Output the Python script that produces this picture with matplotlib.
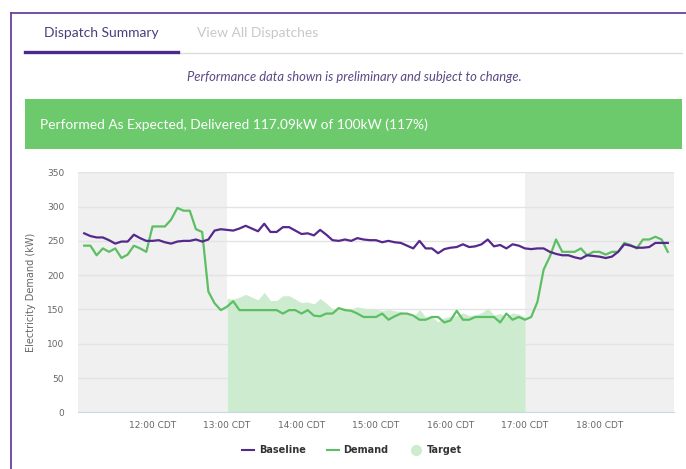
import matplotlib.pyplot as plt
from matplotlib.lines import Line2D
from matplotlib.patches import Rectangle
import numpy as np

W, H = 686, 469

# 5-minute readings from 11:05 to 18:55 (kW)
baseline = [261, 257, 255, 255, 251, 246, 249, 249, 259, 254,
            250, 250, 251, 248, 246, 249, 250, 250, 252, 249,
            252, 265, 267, 266, 265, 268, 272, 268, 264, 275,
            263, 263, 270, 270, 265, 260, 261, 258, 266, 259,
            251, 250, 252, 250, 254, 252, 251, 251, 248, 250,
            248, 247, 243, 239, 250, 239, 239, 232, 238, 240,
            241, 245, 241, 242, 245, 252, 242, 244, 239, 245,
            243, 239, 238, 239, 239, 234, 231, 229, 229, 226,
            224, 229, 228, 227, 225, 227, 234, 245, 243, 240,
            240, 241, 247, 247, 247]
demand = [243, 243, 229, 239, 234, 239, 225, 230, 243, 239,
          234, 271, 271, 271, 281, 298, 294, 294, 267, 263,
          176, 159, 149, 154, 162, 149, 149, 149, 149, 149,
          149, 149, 144, 149, 149, 144, 149, 141, 140, 144,
          144, 152, 149, 148, 144, 139, 139, 139, 144, 135,
          140, 144, 144, 141, 135, 135, 139, 139, 131, 134,
          148, 135, 135, 139, 139, 139, 139, 131, 144, 135,
          139, 135, 139, 161, 208, 227, 252, 234, 234, 234,
          239, 229, 234, 234, 230, 234, 234, 247, 244, 239,
          252, 252, 256, 252, 234]
# dispatch target 13:00 - 17:00
target = [166, 165, 168, 172, 168, 164, 175, 163, 163, 170,
          170, 165, 160, 161, 158, 166, 159, 151, 150, 152,
          150, 154, 152, 151, 151, 148, 150, 148, 147, 143,
          139, 150, 139, 139, 132, 138, 140, 141, 145, 141,
          142, 145, 152, 142, 144, 139, 145, 143, 139]

tick_labels = ['12:00 CDT', '13:00 CDT', '14:00 CDT', '15:00 CDT',
               '16:00 CDT', '17:00 CDT', '18:00 CDT']

# minutes after 11:00
t = np.arange(len(baseline)) * 5 + 5
t_target = np.arange(len(target)) * 5 + 120

purple = '#55288c'
green = '#5cbf63'
font = 'Lato'

fig = plt.figure(figsize=(W / 100, H / 100), dpi=100)


def fx(x):
    return x / W


def fy(y):
    return 1 - y / H


# page frame
fig.add_artist(Line2D([fx(10.5), fx(10.5)], [fy(12.7), 0], color='#6a3fa0', lw=1.3))
fig.add_artist(Line2D([fx(10.5), 1], [fy(12.7), fy(12.7)], color='#6a3fa0', lw=1.3))

# tabs
fig.text(fx(44), fy(33), 'Dispatch Summary', fontsize=10, family=font,
         color='#4c3d7c', va='center', ha='left')
fig.text(fx(197), fy(33), 'View All Dispatches', fontsize=10, family=font,
         color='#c8c8c8', va='center', ha='left')
fig.add_artist(Line2D([fx(178), fx(682)], [fy(53.5), fy(53.5)], color='#dddddd', lw=1))
fig.add_artist(Line2D([fx(25), fx(178)], [fy(52), fy(52)], color='#4b2a8a', lw=2.4))

fig.text(fx(354), fy(77), 'Performance data shown is preliminary and subject to change.',
         fontsize=9.4, family=font, style='italic', color='#5a4a85', ha='center', va='center')

# result banner
fig.add_artist(Rectangle((fx(25), fy(149)), fx(682) - fx(25), fy(99) - fy(149),
                         transform=fig.transFigure, color='#6cc96c', lw=0))
fig.text(fx(40), fy(125), 'Performed As Expected, Delivered 117.09kW of 100kW (117%)',
         fontsize=9.9, family=font, color='white', ha='left', va='center')

# chart
ax = fig.add_axes([fx(78), fy(412.3), fx(674) - fx(78), fy(172.3) - fy(412.3)])
ax.axvspan(0, 120, color='#f0f0f0', lw=0, zorder=0)
ax.axvspan(360, 480, color='#f0f0f0', lw=0, zorder=0)
for v in range(50, 351, 50):
    ax.axhline(v, color='#e3e3e3', lw=1, zorder=1)
ax.fill_between(t_target, 0, target, color='#cdeccf', lw=0, zorder=2)
ax.plot(t, baseline, color=purple, lw=1.6, zorder=4)
ax.plot(t, demand, color=green, lw=1.6, zorder=3)

ax.set_xlim(0, 480)
ax.set_ylim(0, 350)
ax.set_xticks(range(60, 421, 60))
ax.set_xticklabels(tick_labels)
ax.set_yticks(range(0, 351, 50))
ax.tick_params(length=0, labelsize=6.5, labelcolor='#666666', pad=6)
ax.tick_params(axis='y', pad=10)
for lbl in ax.get_xticklabels() + ax.get_yticklabels():
    lbl.set_family('DejaVu Sans')
for s in ['top', 'right', 'left']:
    ax.spines[s].set_visible(False)
ax.spines['bottom'].set_color('#ccd6eb')
ax.set_ylabel('Electricity Demand (kW)', fontsize=7, color='#666666', labelpad=8)

handles = [Line2D([], [], color=purple, lw=1.5),
           Line2D([], [], color=green, lw=1.5),
           Line2D([], [], marker='o', ls='', markersize=7, color='#cdeccf')]
leg = fig.legend(handles, ['Baseline', 'Demand', 'Target'], loc='center',
                 bbox_to_anchor=(fx(352), fy(450)), ncol=3, frameon=False,
                 fontsize=7, handlelength=1.2, columnspacing=2.2, handletextpad=0.5)
for txt in leg.get_texts():
    txt.set_fontweight('bold')
    txt.set_color('#333333')

fig.savefig('out.png', dpi=100)
